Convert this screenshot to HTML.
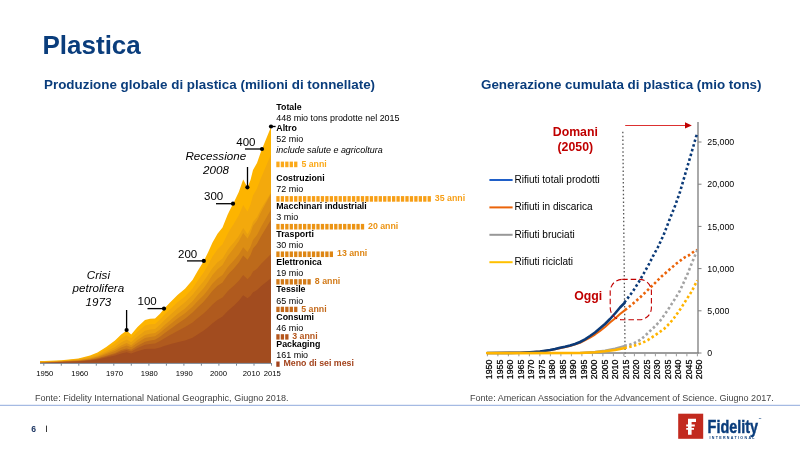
<!DOCTYPE html>
<html><head><meta charset="utf-8"><title>Plastica</title>
<style>
html,body{margin:0;padding:0;background:#fff;}
body{width:800px;height:450px;position:relative;overflow:hidden;font-family:"Liberation Sans",sans-serif;}
svg{position:absolute;left:0;top:0;}
text{font-family:"Liberation Sans",sans-serif;}
.title{font-size:26px;font-weight:bold;fill:#0A3D7C;}
.sub{font-size:13.4px;font-weight:bold;fill:#0A3D7C;}
.cb{font-size:8.8px;font-weight:bold;fill:#000;}
.cr{font-size:8.95px;fill:#000;}
.ci{font-size:8.95px;font-style:italic;fill:#000;}
.an{font-size:11.5px;fill:#000;}
.ai{font-size:11.6px;font-style:italic;fill:#000;}
.lx{font-size:7.7px;fill:#000;}
.rx{font-size:8.8px;fill:#000;stroke:#000;stroke-width:0.25px;}
.ry{font-size:8.8px;fill:#000;}
.lg{font-size:10.05px;fill:#000;}
.red{font-size:12.3px;font-weight:bold;fill:#C00000;}
.src{font-size:9.05px;fill:#444;}
</style></head><body>
<svg width="800" height="450" viewBox="0 0 800 450">
<text x="42.5" y="54.3" class="title">Plastica</text>
<text x="44" y="89.2" class="sub">Produzione globale di plastica (milioni di tonnellate)</text>
<text x="481" y="89.2" class="sub">Generazione cumulata di plastica (mio tons)</text>
<!-- left area chart -->
<path d="M40,363.0 L40.0,361.0 L44.6,361.0 L61.6,360.3 L78.4,358.4 L90.0,355.6 L97.5,352.5 L106.2,346.9 L115.0,340.6 L121.2,334.4 L126.6,330.5 L131.2,334.4 L137.5,326.9 L145.0,320.0 L150.0,318.8 L155.0,318.5 L160.0,313.8 L164.1,308.8 L170.0,302.5 L172.5,300.0 L177.5,295.0 L185.0,288.8 L192.5,280.0 L197.5,271.2 L203.8,260.9 L208.0,252.5 L212.5,242.5 L217.5,233.8 L222.5,227.5 L227.5,215.0 L229.4,211.0 L233.8,202.5 L238.8,191.9 L243.2,179.5 L247.5,187.5 L250.5,180.0 L253.0,170.0 L257.0,163.0 L261.2,151.0 L271.0,127.0 L271.0,363.0 Z" fill="#FDB400"/>
<path d="M40,363.0 L40.0,361.5 L44.6,361.5 L61.6,360.7 L78.4,359.0 L90.0,356.6 L97.5,354.0 L106.2,349.2 L115.0,343.7 L121.2,338.4 L126.6,335.1 L131.2,338.3 L137.5,331.7 L145.0,325.5 L150.0,324.3 L155.0,323.9 L160.0,319.6 L164.1,315.1 L170.0,309.3 L172.5,307.0 L177.5,302.3 L185.0,296.4 L192.5,288.5 L197.5,280.9 L203.8,272.2 L208.0,265.0 L212.5,256.6 L217.5,249.3 L222.5,244.3 L227.5,233.9 L229.4,230.7 L233.8,223.8 L238.8,215.2 L243.2,205.1 L247.5,211.5 L250.5,204.5 L253.0,195.4 L257.0,188.6 L261.2,177.4 L271.0,154.4 L271.0,363.0 Z" fill="#F3A90C"/>
<path d="M40,363.0 L40.0,362.0 L44.6,361.9 L61.6,361.1 L78.4,359.7 L90.0,357.7 L97.5,355.4 L106.2,351.4 L115.0,346.9 L121.2,342.4 L126.6,339.6 L131.2,342.2 L137.5,336.4 L145.0,330.7 L150.0,329.5 L155.0,328.9 L160.0,324.8 L164.1,320.6 L170.0,315.1 L172.5,312.8 L177.5,308.3 L185.0,302.3 L192.5,294.8 L197.5,288.4 L203.8,281.1 L208.0,275.1 L212.5,268.1 L217.5,262.3 L222.5,258.6 L227.5,250.2 L229.4,247.6 L233.8,242.4 L238.8,235.9 L243.2,228.0 L247.5,234.3 L250.5,229.1 L253.0,221.9 L257.0,217.2 L261.2,208.8 L271.0,192.4 L271.0,363.0 Z" fill="#E89E10"/>
<path d="M40,363.0 L40.0,362.4 L44.6,362.3 L61.6,361.4 L78.4,360.2 L90.0,358.4 L97.5,356.5 L106.2,353.1 L115.0,349.2 L121.2,345.4 L126.6,343.0 L131.2,345.2 L137.5,340.0 L145.0,335.0 L150.0,333.7 L155.0,333.1 L160.0,329.4 L164.1,325.5 L170.0,320.4 L172.5,318.3 L177.5,314.1 L185.0,308.4 L192.5,301.3 L197.5,295.1 L203.8,287.9 L208.0,282.1 L212.5,275.1 L217.5,269.2 L222.5,265.1 L227.5,256.6 L229.4,253.9 L233.8,248.3 L238.8,241.3 L243.2,233.0 L247.5,238.5 L250.5,233.0 L253.0,225.8 L257.0,220.5 L261.2,211.7 L271.0,193.8 L271.0,363.0 Z" fill="#DC8E14"/>
<path d="M40,363.0 L40.0,362.8 L44.6,362.6 L61.6,361.6 L78.4,360.5 L90.0,359.0 L97.5,357.3 L106.2,354.3 L115.0,350.9 L121.2,347.6 L126.6,345.4 L131.2,347.3 L137.5,342.7 L145.0,338.1 L150.0,336.9 L155.0,336.2 L160.0,332.8 L164.1,329.2 L170.0,324.5 L172.5,322.6 L177.5,318.6 L185.0,313.3 L192.5,306.8 L197.5,301.3 L203.8,294.9 L208.0,289.7 L212.5,283.6 L217.5,278.4 L222.5,275.0 L227.5,267.5 L229.4,265.2 L233.8,260.4 L238.8,254.4 L243.2,247.3 L247.5,251.9 L250.5,246.8 L253.0,240.1 L257.0,235.0 L261.2,226.7 L271.0,209.6 L271.0,363.0 Z" fill="#CE7E17"/>
<path d="M40,363.0 L40.0,363.0 L44.6,362.8 L61.6,361.8 L78.4,360.9 L90.0,359.7 L97.5,358.3 L106.2,355.8 L115.0,352.9 L121.2,350.1 L126.6,348.4 L131.2,349.8 L137.5,345.8 L145.0,341.7 L150.0,340.5 L155.0,339.8 L160.0,336.7 L164.1,333.5 L170.0,329.2 L172.5,327.4 L177.5,323.7 L185.0,318.7 L192.5,312.5 L197.5,307.4 L203.8,301.4 L208.0,296.5 L212.5,290.8 L217.5,285.8 L222.5,282.4 L227.5,275.3 L229.4,273.1 L233.8,268.4 L238.8,262.5 L243.2,255.6 L247.5,259.8 L250.5,254.9 L253.0,248.6 L257.0,243.8 L261.2,236.0 L271.0,219.7 L271.0,363.0 Z" fill="#BD6A1B"/>
<path d="M40,363.0 L40.0,363.0 L44.6,362.8 L61.6,361.9 L78.4,361.2 L90.0,360.0 L97.5,358.8 L106.2,356.6 L115.0,354.0 L121.2,351.6 L126.6,350.0 L131.2,351.4 L137.5,348.0 L145.0,344.7 L150.0,343.9 L155.0,343.4 L160.0,341.0 L164.1,338.4 L170.0,335.1 L172.5,333.7 L177.5,330.9 L185.0,327.1 L192.5,322.4 L197.5,318.2 L203.8,313.2 L208.0,309.2 L212.5,304.5 L217.5,300.3 L222.5,297.4 L227.5,291.5 L229.4,289.6 L233.8,285.7 L238.8,280.7 L243.2,274.9 L247.5,279.2 L250.5,276.0 L253.0,271.6 L257.0,268.8 L261.2,263.7 L271.0,254.0 L271.0,363.0 Z" fill="#B05A1E"/>
<path d="M40,363.0 L40.0,363.0 L44.6,362.9 L61.6,362.1 L78.4,361.5 L90.0,360.5 L97.5,359.5 L106.2,357.6 L115.0,355.5 L121.2,353.5 L126.6,352.2 L131.2,353.5 L137.5,351.2 L145.0,349.1 L150.0,348.8 L155.0,348.8 L160.0,347.5 L164.1,346.0 L170.0,344.2 L172.5,343.5 L177.5,342.2 L185.0,340.5 L192.5,337.8 L197.5,334.6 L203.8,330.5 L208.0,327.2 L212.5,323.3 L217.5,319.6 L222.5,316.6 L227.5,311.3 L229.4,309.6 L233.8,305.7 L238.8,300.8 L243.2,295.2 L247.5,298.3 L250.5,295.8 L253.0,292.3 L257.0,290.1 L261.2,286.1 L271.0,278.3 L271.0,363.0 Z" fill="#A24C1F"/>
<line x1="40" y1="363.4" x2="271" y2="363.4" stroke="#7b8794" stroke-width="1"/>
<line x1="43.8" y1="363" x2="43.8" y2="365.7" stroke="#7b8794" stroke-width="1"/>
<line x1="61.3" y1="363" x2="61.3" y2="365.7" stroke="#7b8794" stroke-width="1"/>
<line x1="78.8" y1="363" x2="78.8" y2="365.7" stroke="#7b8794" stroke-width="1"/>
<line x1="96.3" y1="363" x2="96.3" y2="365.7" stroke="#7b8794" stroke-width="1"/>
<line x1="113.8" y1="363" x2="113.8" y2="365.7" stroke="#7b8794" stroke-width="1"/>
<line x1="131.3" y1="363" x2="131.3" y2="365.7" stroke="#7b8794" stroke-width="1"/>
<line x1="148.9" y1="363" x2="148.9" y2="365.7" stroke="#7b8794" stroke-width="1"/>
<line x1="166.4" y1="363" x2="166.4" y2="365.7" stroke="#7b8794" stroke-width="1"/>
<line x1="183.9" y1="363" x2="183.9" y2="365.7" stroke="#7b8794" stroke-width="1"/>
<line x1="201.4" y1="363" x2="201.4" y2="365.7" stroke="#7b8794" stroke-width="1"/>
<line x1="218.9" y1="363" x2="218.9" y2="365.7" stroke="#7b8794" stroke-width="1"/>
<line x1="236.5" y1="363" x2="236.5" y2="365.7" stroke="#7b8794" stroke-width="1"/>
<line x1="254.0" y1="363" x2="254.0" y2="365.7" stroke="#7b8794" stroke-width="1"/>
<line x1="271.5" y1="363" x2="271.5" y2="365.7" stroke="#7b8794" stroke-width="1"/>
<text x="44.7" y="376.1" text-anchor="middle" class="lx">1950</text>
<text x="79.7" y="376.1" text-anchor="middle" class="lx">1960</text>
<text x="114.6" y="376.1" text-anchor="middle" class="lx">1970</text>
<text x="149.2" y="376.1" text-anchor="middle" class="lx">1980</text>
<text x="184.2" y="376.1" text-anchor="middle" class="lx">1990</text>
<text x="218.6" y="376.1" text-anchor="middle" class="lx">2000</text>
<text x="251.4" y="376.1" text-anchor="middle" class="lx">2010</text>
<text x="272.3" y="376.1" text-anchor="middle" class="lx">2015</text>
<circle cx="271.0" cy="126.5" r="2.1" fill="#000"/>
<line x1="271" y1="126.5" x2="275.6" y2="126.5" stroke="#000" stroke-width="1.3"/>
<circle cx="262.0" cy="149.0" r="2.1" fill="#000"/>
<line x1="245" y1="149" x2="262" y2="149" stroke="#000" stroke-width="1.3"/>
<text x="236.30" y="145.60" class="an">400</text>
<circle cx="233.0" cy="203.7" r="2.1" fill="#000"/>
<line x1="216" y1="203.7" x2="233" y2="203.7" stroke="#000" stroke-width="1.3"/>
<text x="204.00" y="200.00" class="an">300</text>
<circle cx="203.8" cy="260.9" r="2.1" fill="#000"/>
<line x1="187" y1="260.9" x2="203.8" y2="260.9" stroke="#000" stroke-width="1.3"/>
<text x="178.00" y="257.50" class="an">200</text>
<circle cx="164.0" cy="308.6" r="2.1" fill="#000"/>
<line x1="147.5" y1="308.6" x2="164" y2="308.6" stroke="#000" stroke-width="1.3"/>
<text x="137.50" y="305.00" class="an">100</text>
<circle cx="247.4" cy="187.3" r="2.1" fill="#000"/>
<line x1="247.5" y1="167" x2="247.5" y2="187" stroke="#000" stroke-width="1.3"/>
<circle cx="126.6" cy="330.0" r="2.1" fill="#000"/>
<line x1="126.6" y1="310" x2="126.6" y2="330" stroke="#000" stroke-width="1.3"/>
<text x="215.8" y="159.6" text-anchor="middle" class="ai">Recessione</text>
<text x="216" y="173.6" text-anchor="middle" class="ai">2008</text>
<text x="98.4" y="278.8" text-anchor="middle" class="ai">Crisi</text>
<text x="98.4" y="292.3" text-anchor="middle" class="ai">petrolifera</text>
<text x="98.4" y="305.8" text-anchor="middle" class="ai">1973</text>
<text x="276.30" y="109.50" class="cb">Totale</text>
<text x="276.30" y="120.50" class="cr">448 mio tons prodotte nel 2015</text>
<text x="276.30" y="131.00" class="cb">Altro</text>
<text x="276.30" y="142.00" class="cr">52 mio</text>
<text x="276.30" y="153.20" class="ci">include salute e agricoltura</text>
<rect x="276.30" y="161.60" width="3.3" height="5.6" fill="#FBA919"/><rect x="280.75" y="161.60" width="3.3" height="5.6" fill="#FBA919"/><rect x="285.20" y="161.60" width="3.3" height="5.6" fill="#FBA919"/><rect x="289.65" y="161.60" width="3.3" height="5.6" fill="#FBA919"/><rect x="294.10" y="161.60" width="3.3" height="5.6" fill="#FBA919"/>
<text x="301.40" y="166.80" class="cb" style="fill:#FBA919">5 anni</text>
<text x="276.30" y="180.50" class="cb">Costruzioni</text>
<text x="276.30" y="191.80" class="cr">72 mio</text>
<rect x="276.30" y="196.10" width="3.3" height="5.6" fill="#F79F16"/><rect x="280.75" y="196.10" width="3.3" height="5.6" fill="#F79F16"/><rect x="285.20" y="196.10" width="3.3" height="5.6" fill="#F79F16"/><rect x="289.65" y="196.10" width="3.3" height="5.6" fill="#F79F16"/><rect x="294.10" y="196.10" width="3.3" height="5.6" fill="#F79F16"/><rect x="298.55" y="196.10" width="3.3" height="5.6" fill="#F79F16"/><rect x="303.00" y="196.10" width="3.3" height="5.6" fill="#F79F16"/><rect x="307.45" y="196.10" width="3.3" height="5.6" fill="#F79F16"/><rect x="311.90" y="196.10" width="3.3" height="5.6" fill="#F79F16"/><rect x="316.35" y="196.10" width="3.3" height="5.6" fill="#F79F16"/><rect x="320.80" y="196.10" width="3.3" height="5.6" fill="#F79F16"/><rect x="325.25" y="196.10" width="3.3" height="5.6" fill="#F79F16"/><rect x="329.70" y="196.10" width="3.3" height="5.6" fill="#F79F16"/><rect x="334.15" y="196.10" width="3.3" height="5.6" fill="#F79F16"/><rect x="338.60" y="196.10" width="3.3" height="5.6" fill="#F79F16"/><rect x="343.05" y="196.10" width="3.3" height="5.6" fill="#F79F16"/><rect x="347.50" y="196.10" width="3.3" height="5.6" fill="#F79F16"/><rect x="351.95" y="196.10" width="3.3" height="5.6" fill="#F79F16"/><rect x="356.40" y="196.10" width="3.3" height="5.6" fill="#F79F16"/><rect x="360.85" y="196.10" width="3.3" height="5.6" fill="#F79F16"/><rect x="365.30" y="196.10" width="3.3" height="5.6" fill="#F79F16"/><rect x="369.75" y="196.10" width="3.3" height="5.6" fill="#F79F16"/><rect x="374.20" y="196.10" width="3.3" height="5.6" fill="#F79F16"/><rect x="378.65" y="196.10" width="3.3" height="5.6" fill="#F79F16"/><rect x="383.10" y="196.10" width="3.3" height="5.6" fill="#F79F16"/><rect x="387.55" y="196.10" width="3.3" height="5.6" fill="#F79F16"/><rect x="392.00" y="196.10" width="3.3" height="5.6" fill="#F79F16"/><rect x="396.45" y="196.10" width="3.3" height="5.6" fill="#F79F16"/><rect x="400.90" y="196.10" width="3.3" height="5.6" fill="#F79F16"/><rect x="405.35" y="196.10" width="3.3" height="5.6" fill="#F79F16"/><rect x="409.80" y="196.10" width="3.3" height="5.6" fill="#F79F16"/><rect x="414.25" y="196.10" width="3.3" height="5.6" fill="#F79F16"/><rect x="418.70" y="196.10" width="3.3" height="5.6" fill="#F79F16"/><rect x="423.15" y="196.10" width="3.3" height="5.6" fill="#F79F16"/><rect x="427.60" y="196.10" width="3.3" height="5.6" fill="#F79F16"/>
<text x="434.80" y="200.90" class="cb" style="fill:#F79F16">35 anni</text>
<text x="276.30" y="208.50" class="cb">Macchinari industriali</text>
<text x="276.30" y="220.00" class="cr">3 mio</text>
<rect x="276.30" y="223.90" width="3.3" height="5.6" fill="#EC9414"/><rect x="280.75" y="223.90" width="3.3" height="5.6" fill="#EC9414"/><rect x="285.20" y="223.90" width="3.3" height="5.6" fill="#EC9414"/><rect x="289.65" y="223.90" width="3.3" height="5.6" fill="#EC9414"/><rect x="294.10" y="223.90" width="3.3" height="5.6" fill="#EC9414"/><rect x="298.55" y="223.90" width="3.3" height="5.6" fill="#EC9414"/><rect x="303.00" y="223.90" width="3.3" height="5.6" fill="#EC9414"/><rect x="307.45" y="223.90" width="3.3" height="5.6" fill="#EC9414"/><rect x="311.90" y="223.90" width="3.3" height="5.6" fill="#EC9414"/><rect x="316.35" y="223.90" width="3.3" height="5.6" fill="#EC9414"/><rect x="320.80" y="223.90" width="3.3" height="5.6" fill="#EC9414"/><rect x="325.25" y="223.90" width="3.3" height="5.6" fill="#EC9414"/><rect x="329.70" y="223.90" width="3.3" height="5.6" fill="#EC9414"/><rect x="334.15" y="223.90" width="3.3" height="5.6" fill="#EC9414"/><rect x="338.60" y="223.90" width="3.3" height="5.6" fill="#EC9414"/><rect x="343.05" y="223.90" width="3.3" height="5.6" fill="#EC9414"/><rect x="347.50" y="223.90" width="3.3" height="5.6" fill="#EC9414"/><rect x="351.95" y="223.90" width="3.3" height="5.6" fill="#EC9414"/><rect x="356.40" y="223.90" width="3.3" height="5.6" fill="#EC9414"/><rect x="360.85" y="223.90" width="3.3" height="5.6" fill="#EC9414"/>
<text x="368.00" y="228.80" class="cb" style="fill:#EC9414">20 anni</text>
<text x="276.30" y="236.50" class="cb">Trasporti</text>
<text x="276.30" y="248.00" class="cr">30 mio</text>
<rect x="276.30" y="251.45" width="3.3" height="5.6" fill="#DE8614"/><rect x="280.75" y="251.45" width="3.3" height="5.6" fill="#DE8614"/><rect x="285.20" y="251.45" width="3.3" height="5.6" fill="#DE8614"/><rect x="289.65" y="251.45" width="3.3" height="5.6" fill="#DE8614"/><rect x="294.10" y="251.45" width="3.3" height="5.6" fill="#DE8614"/><rect x="298.55" y="251.45" width="3.3" height="5.6" fill="#DE8614"/><rect x="303.00" y="251.45" width="3.3" height="5.6" fill="#DE8614"/><rect x="307.45" y="251.45" width="3.3" height="5.6" fill="#DE8614"/><rect x="311.90" y="251.45" width="3.3" height="5.6" fill="#DE8614"/><rect x="316.35" y="251.45" width="3.3" height="5.6" fill="#DE8614"/><rect x="320.80" y="251.45" width="3.3" height="5.6" fill="#DE8614"/><rect x="325.25" y="251.45" width="3.3" height="5.6" fill="#DE8614"/><rect x="329.70" y="251.45" width="3.3" height="5.6" fill="#DE8614"/>
<text x="337.00" y="256.30" class="cb" style="fill:#DE8614">13 anni</text>
<text x="276.30" y="264.50" class="cb">Elettronica</text>
<text x="276.30" y="275.50" class="cr">19 mio</text>
<rect x="276.30" y="279.15" width="3.3" height="5.4" fill="#D27A18"/><rect x="280.75" y="279.15" width="3.3" height="5.4" fill="#D27A18"/><rect x="285.20" y="279.15" width="3.3" height="5.4" fill="#D27A18"/><rect x="289.65" y="279.15" width="3.3" height="5.4" fill="#D27A18"/><rect x="294.10" y="279.15" width="3.3" height="5.4" fill="#D27A18"/><rect x="298.55" y="279.15" width="3.3" height="5.4" fill="#D27A18"/><rect x="303.00" y="279.15" width="3.3" height="5.4" fill="#D27A18"/><rect x="307.45" y="279.15" width="3.3" height="5.4" fill="#D27A18"/>
<text x="314.80" y="283.60" class="cb" style="fill:#D27A18">8 anni</text>
<text x="276.30" y="292.40" class="cb">Tessile</text>
<text x="276.30" y="303.90" class="cr">65 mio</text>
<rect x="276.30" y="306.75" width="3.3" height="5.3" fill="#C46A1C"/><rect x="280.75" y="306.75" width="3.3" height="5.3" fill="#C46A1C"/><rect x="285.20" y="306.75" width="3.3" height="5.3" fill="#C46A1C"/><rect x="289.65" y="306.75" width="3.3" height="5.3" fill="#C46A1C"/><rect x="294.10" y="306.75" width="3.3" height="5.3" fill="#C46A1C"/>
<text x="301.20" y="311.50" class="cb" style="fill:#C46A1C">5 anni</text>
<text x="276.30" y="319.50" class="cb">Consumi</text>
<text x="276.30" y="330.80" class="cr">46 mio</text>
<rect x="276.30" y="334.20" width="3.3" height="5.4" fill="#B5561C"/><rect x="280.75" y="334.20" width="3.3" height="5.4" fill="#B5561C"/><rect x="285.20" y="334.20" width="3.3" height="5.4" fill="#B5561C"/>
<text x="292.20" y="338.80" class="cb" style="fill:#B5561C">3 anni</text>
<text x="276.30" y="346.60" class="cb">Packaging</text>
<text x="276.30" y="358.00" class="cr">161 mio</text>
<rect x="276.30" y="361.50" width="3.3" height="5.3" fill="#A3431C"/>
<text x="283.50" y="365.90" class="cb" style="fill:#A3431C">Meno di sei mesi</text>
<!-- right chart -->
<line x1="622.8" y1="131.8" x2="625.1" y2="357" stroke="#555" stroke-width="1.3" stroke-dasharray="1.5 2.37"/>
<line x1="487" y1="353" x2="698.6" y2="353" stroke="#7c7c7c" stroke-width="1.3"/>
<line x1="698" y1="122" x2="698" y2="353.5" stroke="#7c7c7c" stroke-width="1.3"/>
<line x1="487.4" y1="353" x2="487.4" y2="356.3" stroke="#9a9a9a" stroke-width="1"/>
<text transform="translate(492.1,379.2) rotate(-90)" class="rx">1950</text>
<line x1="497.9" y1="353" x2="497.9" y2="356.3" stroke="#9a9a9a" stroke-width="1"/>
<text transform="translate(502.6,379.2) rotate(-90)" class="rx">1955</text>
<line x1="508.4" y1="353" x2="508.4" y2="356.3" stroke="#9a9a9a" stroke-width="1"/>
<text transform="translate(513.1,379.2) rotate(-90)" class="rx">1960</text>
<line x1="518.9" y1="353" x2="518.9" y2="356.3" stroke="#9a9a9a" stroke-width="1"/>
<text transform="translate(523.6,379.2) rotate(-90)" class="rx">1965</text>
<line x1="529.4" y1="353" x2="529.4" y2="356.3" stroke="#9a9a9a" stroke-width="1"/>
<text transform="translate(534.1,379.2) rotate(-90)" class="rx">1970</text>
<line x1="539.9" y1="353" x2="539.9" y2="356.3" stroke="#9a9a9a" stroke-width="1"/>
<text transform="translate(544.6,379.2) rotate(-90)" class="rx">1975</text>
<line x1="550.4" y1="353" x2="550.4" y2="356.3" stroke="#9a9a9a" stroke-width="1"/>
<text transform="translate(555.1,379.2) rotate(-90)" class="rx">1980</text>
<line x1="560.9" y1="353" x2="560.9" y2="356.3" stroke="#9a9a9a" stroke-width="1"/>
<text transform="translate(565.6,379.2) rotate(-90)" class="rx">1985</text>
<line x1="571.4" y1="353" x2="571.4" y2="356.3" stroke="#9a9a9a" stroke-width="1"/>
<text transform="translate(576.1,379.2) rotate(-90)" class="rx">1990</text>
<line x1="581.9" y1="353" x2="581.9" y2="356.3" stroke="#9a9a9a" stroke-width="1"/>
<text transform="translate(586.6,379.2) rotate(-90)" class="rx">1995</text>
<line x1="592.4" y1="353" x2="592.4" y2="356.3" stroke="#9a9a9a" stroke-width="1"/>
<text transform="translate(597.1,379.2) rotate(-90)" class="rx">2000</text>
<line x1="602.9" y1="353" x2="602.9" y2="356.3" stroke="#9a9a9a" stroke-width="1"/>
<text transform="translate(607.6,379.2) rotate(-90)" class="rx">2005</text>
<line x1="613.4" y1="353" x2="613.4" y2="356.3" stroke="#9a9a9a" stroke-width="1"/>
<text transform="translate(618.1,379.2) rotate(-90)" class="rx">2010</text>
<line x1="623.9" y1="353" x2="623.9" y2="356.3" stroke="#9a9a9a" stroke-width="1"/>
<text transform="translate(628.6,379.2) rotate(-90)" class="rx">2015</text>
<line x1="634.4" y1="353" x2="634.4" y2="356.3" stroke="#9a9a9a" stroke-width="1"/>
<text transform="translate(639.1,379.2) rotate(-90)" class="rx">2020</text>
<line x1="644.9" y1="353" x2="644.9" y2="356.3" stroke="#9a9a9a" stroke-width="1"/>
<text transform="translate(649.6,379.2) rotate(-90)" class="rx">2025</text>
<line x1="655.4" y1="353" x2="655.4" y2="356.3" stroke="#9a9a9a" stroke-width="1"/>
<text transform="translate(660.1,379.2) rotate(-90)" class="rx">2030</text>
<line x1="665.9" y1="353" x2="665.9" y2="356.3" stroke="#9a9a9a" stroke-width="1"/>
<text transform="translate(670.6,379.2) rotate(-90)" class="rx">2035</text>
<line x1="676.4" y1="353" x2="676.4" y2="356.3" stroke="#9a9a9a" stroke-width="1"/>
<text transform="translate(681.1,379.2) rotate(-90)" class="rx">2040</text>
<line x1="686.9" y1="353" x2="686.9" y2="356.3" stroke="#9a9a9a" stroke-width="1"/>
<text transform="translate(691.6,379.2) rotate(-90)" class="rx">2045</text>
<line x1="697.4" y1="353" x2="697.4" y2="356.3" stroke="#9a9a9a" stroke-width="1"/>
<text transform="translate(702.1,379.2) rotate(-90)" class="rx">2050</text>
<line x1="698" y1="353.0" x2="701.5" y2="353.0" stroke="#808080" stroke-width="1"/>
<text x="707.3" y="356.2" class="ry">0</text>
<line x1="698" y1="310.8" x2="701.5" y2="310.8" stroke="#808080" stroke-width="1"/>
<text x="707.3" y="314.0" class="ry">5,000</text>
<line x1="698" y1="268.6" x2="701.5" y2="268.6" stroke="#808080" stroke-width="1"/>
<text x="707.3" y="271.8" class="ry">10,000</text>
<line x1="698" y1="226.4" x2="701.5" y2="226.4" stroke="#808080" stroke-width="1"/>
<text x="707.3" y="229.6" class="ry">15,000</text>
<line x1="698" y1="184.2" x2="701.5" y2="184.2" stroke="#808080" stroke-width="1"/>
<text x="707.3" y="187.4" class="ry">20,000</text>
<line x1="698" y1="142.0" x2="701.5" y2="142.0" stroke="#808080" stroke-width="1"/>
<text x="707.3" y="145.2" class="ry">25,000</text>
<path d="M487.4,353.0 L510.0,352.9 L520.0,352.8 L530.0,352.3 L540.0,351.6 L550.0,350.2 L560.0,348.1 L570.0,346.0 L580.0,342.8 L590.0,337.5 L595.0,334.5 L600.0,331.0 L605.0,327.0 L610.0,322.5 L615.0,318.5 L620.0,314.0 L625.0,310.2" fill="none" stroke="#EB640A" stroke-width="2.1" stroke-linejoin="round" stroke-linecap="round"/>
<path d="M487.4,353.0 L510.0,352.9 L520.0,352.8 L530.0,352.2 L540.0,351.5 L550.0,350.0 L555.0,349.0 L560.0,347.8 L565.0,346.8 L570.0,345.5 L575.0,344.0 L580.0,342.0 L585.0,339.3 L590.0,336.0 L595.0,332.5 L600.0,328.3 L605.0,324.0 L610.0,319.0 L615.0,313.5 L620.0,307.5 L624.5,303.0" fill="none" stroke="#0B3A78" stroke-width="2.6" stroke-linejoin="round" stroke-linecap="round"/>
<path d="M487.4,353.0 L580.0,352.8 L595.0,351.8 L605.0,350.5 L615.0,348.5 L625.0,345.7" fill="none" stroke="#A3A3A3" stroke-width="2.0" stroke-linejoin="round" stroke-linecap="round"/>
<path d="M487.2,353.1 L580.0,353.0 L595.0,352.2 L605.0,351.3 L615.0,350.0 L625.0,348.0" fill="none" stroke="#FFB400" stroke-width="2.6" stroke-linejoin="round" stroke-linecap="round"/>
<path d="M624.4,302.5 L627.2,298.8 L633.0,291.2 L638.5,282.5 L643.5,273.8 L648.5,265.0 L653.0,256.2 L658.0,247.0 L663.6,235.0 L669.0,221.0 L675.0,206.0 L680.0,192.0 L682.0,185.0 L687.0,168.0 L692.0,151.0 L696.0,137.0 L697.4,133.0" fill="none" stroke="#0B3A78" stroke-width="2.6" stroke-linejoin="round" stroke-dasharray="2.5 2.4"/>
<path d="M625.0,310.0 L632.8,303.8 L640.0,297.5 L647.2,290.6 L654.0,284.0 L661.5,276.5 L669.0,270.0 L676.5,263.5 L685.0,257.2 L689.4,255.0 L694.0,251.5 L697.4,250.0" fill="none" stroke="#EB640A" stroke-width="2.6" stroke-linejoin="round" stroke-dasharray="2.5 2.4"/>
<path d="M624.4,345.8 L629.0,345.0 L634.4,343.0 L640.0,340.0 L644.9,336.0 L650.0,331.0 L655.4,326.0 L660.0,321.0 L665.0,314.0 L669.4,307.5 L674.6,299.4 L679.8,291.0 L684.0,281.9 L687.9,273.0 L691.6,263.8 L695.0,255.6 L697.4,250.0" fill="none" stroke="#A3A3A3" stroke-width="2.6" stroke-linejoin="round" stroke-dasharray="2.5 2.4"/>
<path d="M624.4,348.0 L632.0,346.4 L642.0,343.0 L648.0,340.0 L654.0,336.0 L664.0,329.0 L670.0,323.0 L674.0,318.0 L680.6,308.8 L686.2,300.0 L691.6,291.6 L696.2,282.5 L697.4,280.5" fill="none" stroke="#FFB400" stroke-width="2.6" stroke-linejoin="round" stroke-dasharray="2.5 2.4"/>
<rect x="610.2" y="279.4" width="41.2" height="40.4" rx="12" ry="12" fill="none" stroke="#C00000" stroke-width="1.1" stroke-dasharray="5.5 3"/>
<text x="574.2" y="300.3" class="red">Oggi</text>
<text x="575.3" y="135.9" text-anchor="middle" class="red">Domani</text>
<text x="575.3" y="150.9" text-anchor="middle" class="red">(2050)</text>
<line x1="625.2" y1="125.5" x2="686" y2="125.5" stroke="#DC3030" stroke-width="1.1"/>
<path d="M685,122.2 L691.8,125.4 L685,128.6 Z" fill="#C00000"/>
<!-- legend -->
<line x1="489.4" y1="180" x2="512.6" y2="180" stroke="#1F5FC8" stroke-width="2"/><text x="514.4" y="183" class="lg">Rifiuti totali prodotti</text>
<line x1="489.4" y1="207.4" x2="512.6" y2="207.4" stroke="#EB640A" stroke-width="2"/><text x="514.4" y="210.4" class="lg">Rifiuti in discarica</text>
<line x1="489.4" y1="234.8" x2="512.6" y2="234.8" stroke="#989898" stroke-width="2"/><text x="514.4" y="237.8" class="lg">Rifiuti bruciati</text>
<line x1="489.4" y1="262.2" x2="512.6" y2="262.2" stroke="#FFC000" stroke-width="2"/><text x="514.4" y="265.2" class="lg">Rifiuti riciclati</text>
<!-- footer -->
<text x="35" y="401.3" class="src">Fonte: Fidelity International National Geographic, Giugno 2018.</text>
<text x="470" y="401.3" class="src">Fonte: American Association for the Advancement of Science. Giugno 2017.</text>
<rect x="0" y="404.8" width="800" height="1" fill="#8FAADC"/>
<text x="31.2" y="431.6" style="font-size:8.6px;font-weight:bold;fill:#1F3864">6</text>
<rect x="46" y="425.6" width="0.9" height="6.4" fill="#222"/>
<!-- logo -->
<rect x="678.2" y="413.7" width="25" height="25.1" fill="#C22A1F"/>
<path d="M688,418.8 h8 v3.2 h-4.4 v2.4 h3.2 v2 h-3.2 v1.6 h2.4 v1.8 h-2.4 v5 h-3.6 v-5 h-1.8 v-1.8 h1.8 v-1.6 h-1.8 v-2 h1.8 Z" fill="#fff"/>
<text transform="translate(707.6,433) scale(0.76,1)" style="font-size:19px;font-weight:bold;fill:#0A3D7C;stroke:#0A3D7C;stroke-width:0.45px">Fidelity</text>
<text x="709.4" y="439.3" style="font-size:3.6px;font-weight:bold;fill:#0A3D7C;letter-spacing:1.34px">INTERNATIONAL</text>
<text x="758.6" y="419.5" style="font-size:3px;font-weight:bold;fill:#0A3D7C">™</text>
</svg>
</body></html>
